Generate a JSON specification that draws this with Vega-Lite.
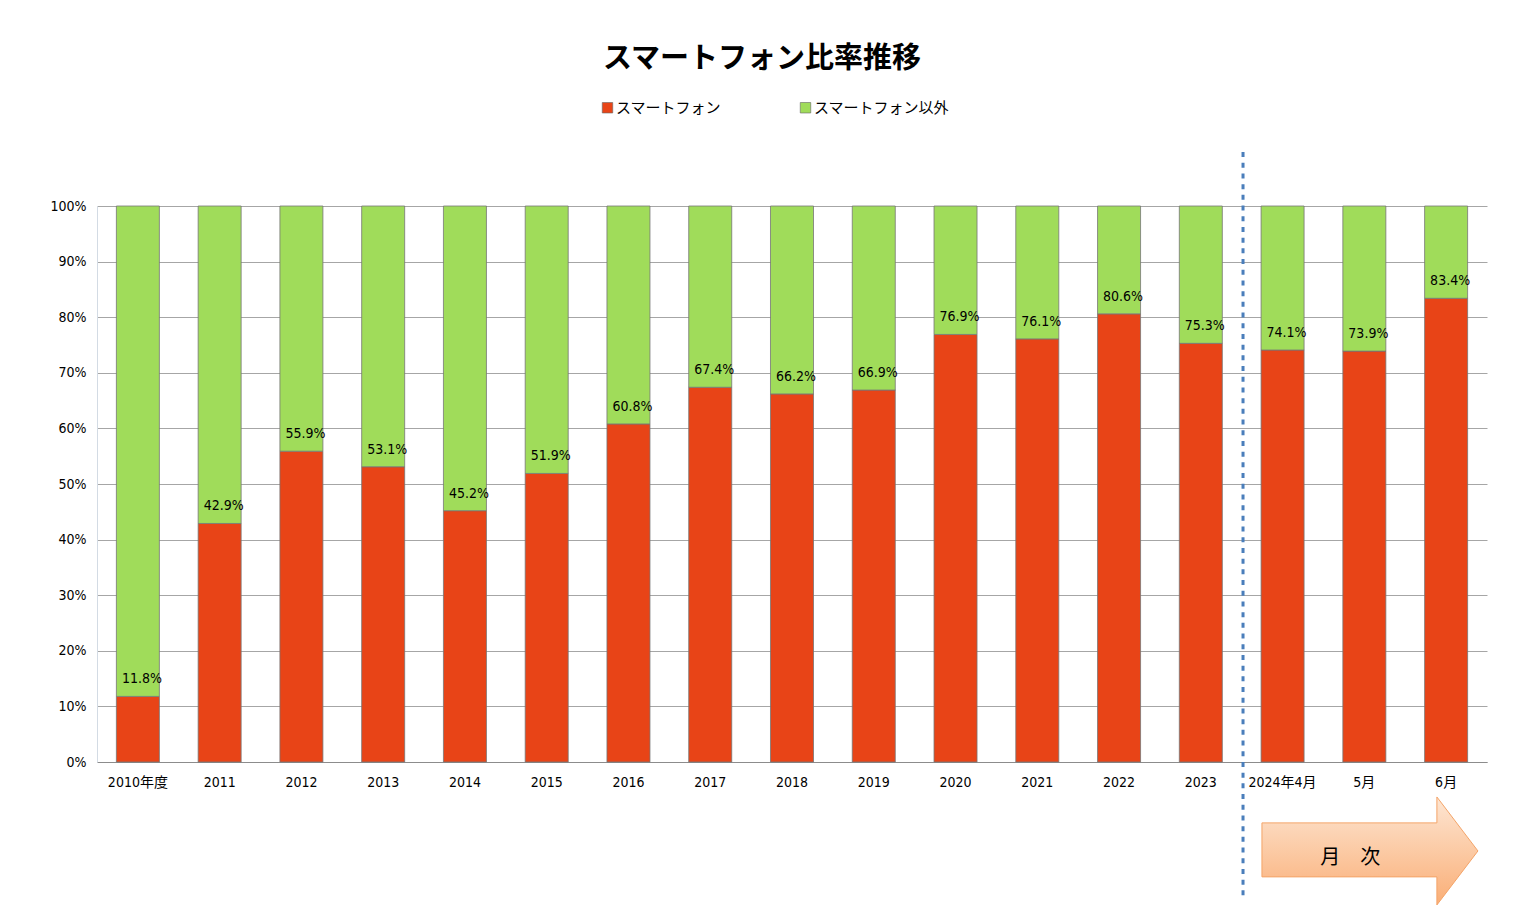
{
  "$schema": "https://vega.github.io/schema/vega-lite/v6.json",
  "width": 1390,
  "height": 556,
  "autosize": {"type": "none"},
  "padding": {"left": 97, "top": 206, "right": 32, "bottom": 155},
  "background": "white",
  "config": {
    "view": {"stroke": null},
    "axis": {"labelFont": "Liberation Sans Narrow, DejaVu Sans Condensed, Noto Sans CJK JP", "labelFontSize": 14, "labelColor": "#000000"}
  },
  "title": {
    "text": "スマートフォン比率推移",
    "font": "Noto Sans CJK JP",
    "fontSize": 29,
    "fontWeight": "bold",
    "color": "#000000",
    "anchor": "middle",
    "dx": -30,
    "offset": 26
  },
  "datasets": {
    "bars": [
      {"period": "2010年度", "type": "スマートフォン", "share": 0.118},
      {"period": "2010年度", "type": "スマートフォン以外", "share": 0.882},
      {"period": "2011", "type": "スマートフォン", "share": 0.429},
      {"period": "2011", "type": "スマートフォン以外", "share": 0.571},
      {"period": "2012", "type": "スマートフォン", "share": 0.559},
      {"period": "2012", "type": "スマートフォン以外", "share": 0.441},
      {"period": "2013", "type": "スマートフォン", "share": 0.531},
      {"period": "2013", "type": "スマートフォン以外", "share": 0.469},
      {"period": "2014", "type": "スマートフォン", "share": 0.452},
      {"period": "2014", "type": "スマートフォン以外", "share": 0.548},
      {"period": "2015", "type": "スマートフォン", "share": 0.519},
      {"period": "2015", "type": "スマートフォン以外", "share": 0.481},
      {"period": "2016", "type": "スマートフォン", "share": 0.608},
      {"period": "2016", "type": "スマートフォン以外", "share": 0.392},
      {"period": "2017", "type": "スマートフォン", "share": 0.674},
      {"period": "2017", "type": "スマートフォン以外", "share": 0.326},
      {"period": "2018", "type": "スマートフォン", "share": 0.662},
      {"period": "2018", "type": "スマートフォン以外", "share": 0.338},
      {"period": "2019", "type": "スマートフォン", "share": 0.669},
      {"period": "2019", "type": "スマートフォン以外", "share": 0.331},
      {"period": "2020", "type": "スマートフォン", "share": 0.769},
      {"period": "2020", "type": "スマートフォン以外", "share": 0.231},
      {"period": "2021", "type": "スマートフォン", "share": 0.761},
      {"period": "2021", "type": "スマートフォン以外", "share": 0.239},
      {"period": "2022", "type": "スマートフォン", "share": 0.806},
      {"period": "2022", "type": "スマートフォン以外", "share": 0.194},
      {"period": "2023", "type": "スマートフォン", "share": 0.753},
      {"period": "2023", "type": "スマートフォン以外", "share": 0.247},
      {"period": "2024年4月", "type": "スマートフォン", "share": 0.741},
      {"period": "2024年4月", "type": "スマートフォン以外", "share": 0.259},
      {"period": "5月", "type": "スマートフォン", "share": 0.739},
      {"period": "5月", "type": "スマートフォン以外", "share": 0.261},
      {"period": "6月", "type": "スマートフォン", "share": 0.834},
      {"period": "6月", "type": "スマートフォン以外", "share": 0.166}
    ],
    "note": [{"label": "月　次"}]
  },
  "layer": [
    {
      "data": {"name": "bars"},
      "mark": {"type": "bar", "stroke": "#767676", "strokeWidth": 0.8},
      "encoding": {
        "x": {
          "field": "period", "type": "nominal", "sort": null,
          "scale": {"paddingInner": 0.474, "paddingOuter": 0.237},
          "axis": {"title": null, "labelAngle": 0, "ticks": false, "grid": false, "domainColor": "#8c8c8c", "labelPadding": 13}
        },
        "y": {
          "field": "share", "type": "quantitative", "stack": "zero",
          "scale": {"domain": [0, 1], "nice": false},
          "axis": {"title": null, "format": "%", "values": [0, 0.1, 0.2, 0.3, 0.4, 0.5, 0.6, 0.7, 0.8, 0.9, 1], "ticks": false, "grid": true, "gridColor": "#a6a6a6", "domainColor": "#d3dbe4", "labelPadding": 11}
        },
        "color": {
          "field": "type", "type": "nominal",
          "scale": {"domain": ["スマートフォン", "スマートフォン以外"], "range": ["#E84417", "#A0DC5A"]},
          "legend": {
            "orient": "none", "legendX": 503, "legendY": -106, "direction": "horizontal", "title": null,
            "symbolType": "square", "symbolSize": 110, "symbolStrokeColor": "#666666", "symbolStrokeWidth": 0.6,
            "labelFont": "Noto Sans CJK JP", "labelFontSize": 15, "labelColor": "#000000", "labelLimit": 400,
            "columnPadding": 76, "padding": 0, "labelOffset": 1
          }
        },
        "order": {"field": "type", "sort": "ascending"}
      }
    },
    {
      "data": {"name": "bars"},
      "transform": [{"filter": "datum.type === 'スマートフォン'"}],
      "mark": {"type": "text", "baseline": "middle", "align": "center", "dy": -17, "dx": 4, "font": "Liberation Sans Narrow, DejaVu Sans Condensed", "fontSize": 14, "color": "#000000"},
      "encoding": {
        "x": {"field": "period", "type": "nominal", "sort": null},
        "y": {"field": "share", "type": "quantitative", "stack": null},
        "text": {"field": "share", "type": "quantitative", "format": ".1%"}
      }
    },
    {
      "data": {"name": "note"},
      "mark": {"type": "rule", "color": "#4A7EBB", "strokeWidth": 3, "strokeDash": [5, 5.7], "clip": false},
      "encoding": {
        "x": {"datum": "2024年4月", "bandPosition": -0.42},
        "y": {"datum": 1.097},
        "y2": {"datum": -0.248}
      }
    },
    {
      "data": {"name": "note"},
      "mark": {
        "type": "point",
        "shape": "M-1,-0.26L0.62,-0.26L0.62,-0.5L1,0L0.62,0.5L0.62,0.24L-1,0.24Z",
        "size": 46656,
        "filled": true,
        "opacity": 1,
        "fill": {"gradient": "linear", "x1": 0, "y1": 0, "x2": 0, "y2": 1, "stops": [{"offset": 0, "color": "#FDE6D3"}, {"offset": 1, "color": "#FAAE76"}]},
        "stroke": "#F4A468",
        "strokeWidth": 1,
        "clip": false
      },
      "encoding": {
        "x": {"datum": "5月", "bandPosition": 0.63},
        "y": {"datum": -0.16}
      }
    },
    {
      "data": {"name": "note"},
      "mark": {"type": "text", "font": "Noto Sans CJK JP", "fontSize": 20, "color": "#000000", "align": "center", "baseline": "middle", "dx": -14, "dy": 7, "clip": false},
      "encoding": {
        "x": {"datum": "5月"},
        "y": {"datum": -0.16},
        "text": {"field": "label"}
      }
    }
  ]
}
